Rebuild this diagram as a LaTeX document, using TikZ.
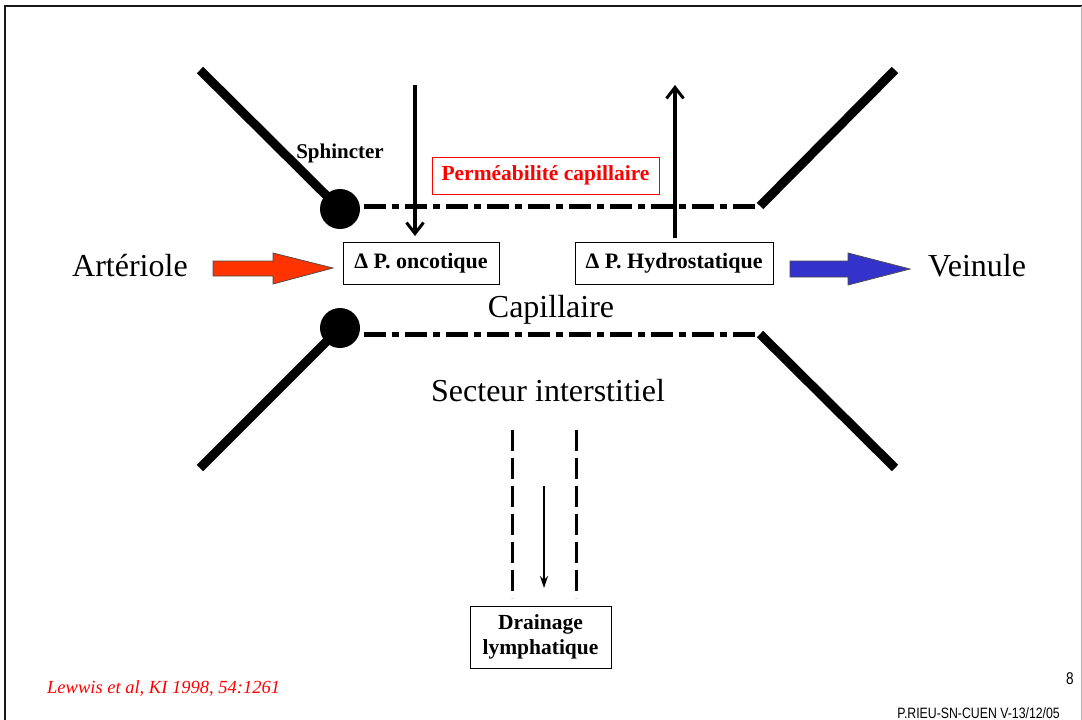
\documentclass[tikz,border=0pt]{standalone}
\usepackage{fontspec}
\setmainfont{Liberation Serif}
\newfontfamily\footsans{Liberation Sans}
\usetikzlibrary{arrows.meta}
\definecolor{artred}{HTML}{FF3300}
\definecolor{veinblue}{HTML}{3333CC}
\definecolor{refred}{HTML}{FF0000}
\tikzset{
  wall/.style={line width=9pt},
  capwall/.style={line width=5pt, dash pattern=on 22pt off 6pt on 7pt off 6pt},
  sph/.style={circle, fill=black, minimum size=40pt, inner sep=0pt},
  pbox/.style={draw, line width=1pt, inner sep=0pt, font=\fontsize{22}{24}\selectfont\bfseries},
  bigtxt/.style={font=\fontsize{32}{36}\selectfont, inner sep=0pt},
  fluxarrow/.style={line width=4pt, -{Straight Barb[length=11pt,width=17pt,line width=3pt]}},
  lymph/.style={line width=3pt, dash pattern=on 21pt off 7pt},
  blockarrow/.style={draw=black!70, line width=0.8pt}
}
\begin{document}
\begin{tikzpicture}[x=1pt,y=-1pt]
\useasboundingbox (0,0) rectangle (1082,720);
% frame
\draw[line width=2.5pt, black!90] (5,720) -- (5,6) -- (1082,6);
\draw[line width=1pt, black!30] (1081,6) -- (1081,720);

% sphincters
\node[sph] (s1) at (340,209) {};
\node[sph] (s2) at (340,328) {};
\coordinate (ul) at (200,70);
\coordinate (ll) at (200,468);
\coordinate (ur) at (895,70);
\coordinate (urb) at (760,206);
\coordinate (lr) at (895,468);
\coordinate (lrb) at (760,334);
\draw[wall] (ul) -- (s1.center);
\draw[wall] (ll) -- (s2.center);
\draw[wall] (ur) -- (urb);
\draw[wall] (lr) -- (lrb);
\coordinate (u1) at (364,206);
\coordinate (l1) at (364,334);
\draw[capwall] (u1) -- (urb);
\draw[capwall] (l1) -- (lrb);

\node[font=\fontsize{21}{23}\selectfont\bfseries, inner sep=0pt] (sphtxt) at (340,153) {Sphincter};

% permeabilite
\node[draw=refred, line width=1pt, text=refred, minimum width=227pt, minimum height=37pt, inner sep=0pt,
      font=\fontsize{21.5}{23}\selectfont\bfseries] (perm) at (545.5,175.5) {Perméabilité capillaire};

% pressure boxes
\node[pbox, minimum width=156pt, minimum height=42pt] (onc) at (421,263) {Δ P. oncotique};
\node[pbox, minimum width=198pt, minimum height=42pt] (hyd) at (674,263) {Δ P. Hydrostatique};

% flux arrows
\coordinate (dtop) at (415,85);
\draw[fluxarrow] (dtop) -- (415,236);
\coordinate (utop) at (675,85);
\draw[fluxarrow] (675,238) -- (utop);

% block arrows
\draw[blockarrow, fill=artred] (213,261) -- (273,261) -- (273,253) -- (333,268) -- (273,284) -- (273,276) -- (213,276) -- cycle;
\draw[blockarrow, fill=veinblue] (790,261) -- (848,261) -- (848,253) -- (910,269) -- (848,285) -- (848,277) -- (790,277) -- cycle;

% big labels
\node[bigtxt, anchor=west] (art) at (72,266) {Artériole};
\node[bigtxt, anchor=west] (vein) at (928,266) {Veinule};
\node[bigtxt] (cap) at (551,310) {Capillaire};
\node[bigtxt] (sect) at (548,391) {Secteur interstitiel};

% lymphatics
\coordinate (la) at (512,430);
\coordinate (lb) at (512,598);
\coordinate (ra) at (576,430);
\coordinate (rb) at (576,598);
\draw[lymph] (la) -- (lb);
\draw[lymph] (ra) -- (rb);
\node[draw, line width=1pt, minimum width=141pt, minimum height=62pt, inner sep=0pt, align=center,
      font=\fontsize{21.5}{25}\selectfont\bfseries] (drain) at (540.5,637) {Drainage\\lymphatique};
\coordinate (da) at (544,486);
\draw[line width=1.5pt, -{Stealth[length=12pt,width=8pt]}] (da) -- (544,588);

% footnotes
\node[text=refred, font=\fontsize{18.5}{20}\selectfont\itshape, anchor=west, inner sep=0pt] (ref) at (47,688) {Lewwis et al, KI 1998, 54:1261};
\node[font=\footsans\fontsize{17}{18}\selectfont, inner sep=0pt, xscale=0.8, transform shape] (pg) at (1070,679) {8};
\node[font=\footsans\fontsize{15}{17}\selectfont, inner sep=0pt, anchor=base east, xscale=0.82, transform shape] (foot) at (1060,718.5) {P.RIEU-SN-CUEN V-13/12/05};
\end{tikzpicture}
\end{document}
